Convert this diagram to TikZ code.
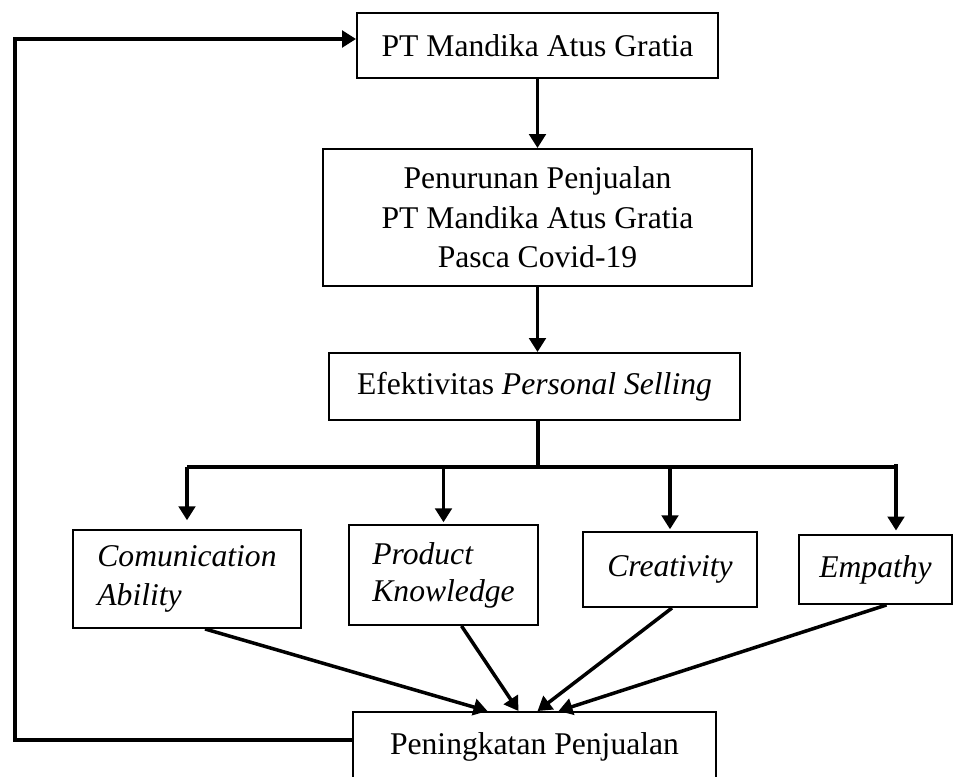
\documentclass[tikz,border=0pt]{standalone}
\usepackage{fontspec}
\setmainfont{Liberation Serif}
\usetikzlibrary{arrows.meta,calc,positioning}
\tikzset{link/.style={line width=2pt, -{Triangle[length=0.28cm, width=0.33cm]}},
  wire/.style={line width=2pt},
  blk/.style={draw, line width=1.1pt, inner sep=0pt, align=center}}

\begin{document}
\begin{tikzpicture}[x=0.02cm, y=-0.02cm, font=\fontsize{18}{22.5}\selectfont]
  \useasboundingbox (0,0) rectangle (960,777);
  % main chain
  \node[blk, minimum width=7.22cm, minimum height=1.30cm] (pt) at (537.5,45.5) {PT Mandika Atus Gratia};
  \node[blk, minimum width=8.58cm, minimum height=2.74cm] (turun) at (537.5,217.5) {Penurunan Penjualan\\PT Mandika Atus Gratia\\Pasca Covid-19};
  \node[blk, minimum width=8.22cm, minimum height=1.34cm] (efek) at (534.5,386.5) {Efektivitas \textit{Personal Selling}};
  \draw[link] (pt.south) -- (turun.north);
  \draw[link] (turun.south) -- (efek.north -| turun.south);
  % the four indicators
  \node[blk, minimum width=4.56cm, minimum height=1.96cm, align=left] (komu) at (187,579) {\textit{Comunication}\\\textit{Ability}};
  \node[blk, minimum width=3.78cm, minimum height=2.00cm, align=left] (prod) at (443.5,575) {\textit{Product}\\[-1.5pt]\textit{Knowledge}};
  \node[blk, minimum width=3.48cm, minimum height=1.50cm] (krea) at (670,569.5) {\textit{Creativity}};
  \node[blk, minimum width=3.06cm, minimum height=1.38cm] (empa) at (875.5,569.5) {\textit{Empathy}};
  \coordinate (bar) at (538,467);
  \coordinate (empin) at ($(empa.north)+(20.5,0)$);
  \draw[wire] (bar |- efek.south) -- (bar);
  \draw[wire] (komu.north |- bar) -- (empin |- bar) -- ++(0,-3);
  \draw[link, shorten >=5pt] (komu.north |- bar) -- (komu.north);
  \draw[link, shorten >=1pt] (prod.north |- bar) -- (prod.north);
  \draw[link, shorten >=1pt] (krea.north |- bar) -- (krea.north);
  \draw[link, shorten >=2pt] (empin |- bar) -- (empin);
  % result
  \node[blk, minimum width=7.26cm, minimum height=1.40cm] (naik) at (534.5,747) {Peningkatan Penjualan};
  \draw[link] ($(komu.south)+(18,0)$) -- ($(naik.north)+(-47,0)$);
  \draw[link] ($(prod.south)+(18,0)$) -- ($(naik.north)+(-16,0)$);
  \draw[link] ($(krea.south)+(2,0)$) -- ($(naik.north)+(3,0)$);
  \draw[link] ($(empa.south)+(11,0)$) -- ($(naik.north)+(24,0)$);
  % feedback loop
  \coordinate (balik) at (15,740);
  \draw[link] ($(naik.west)+(0,-7)$) -- (balik) |- ($(pt.west)+(0,-6.5)$);
\end{tikzpicture}
\end{document}
